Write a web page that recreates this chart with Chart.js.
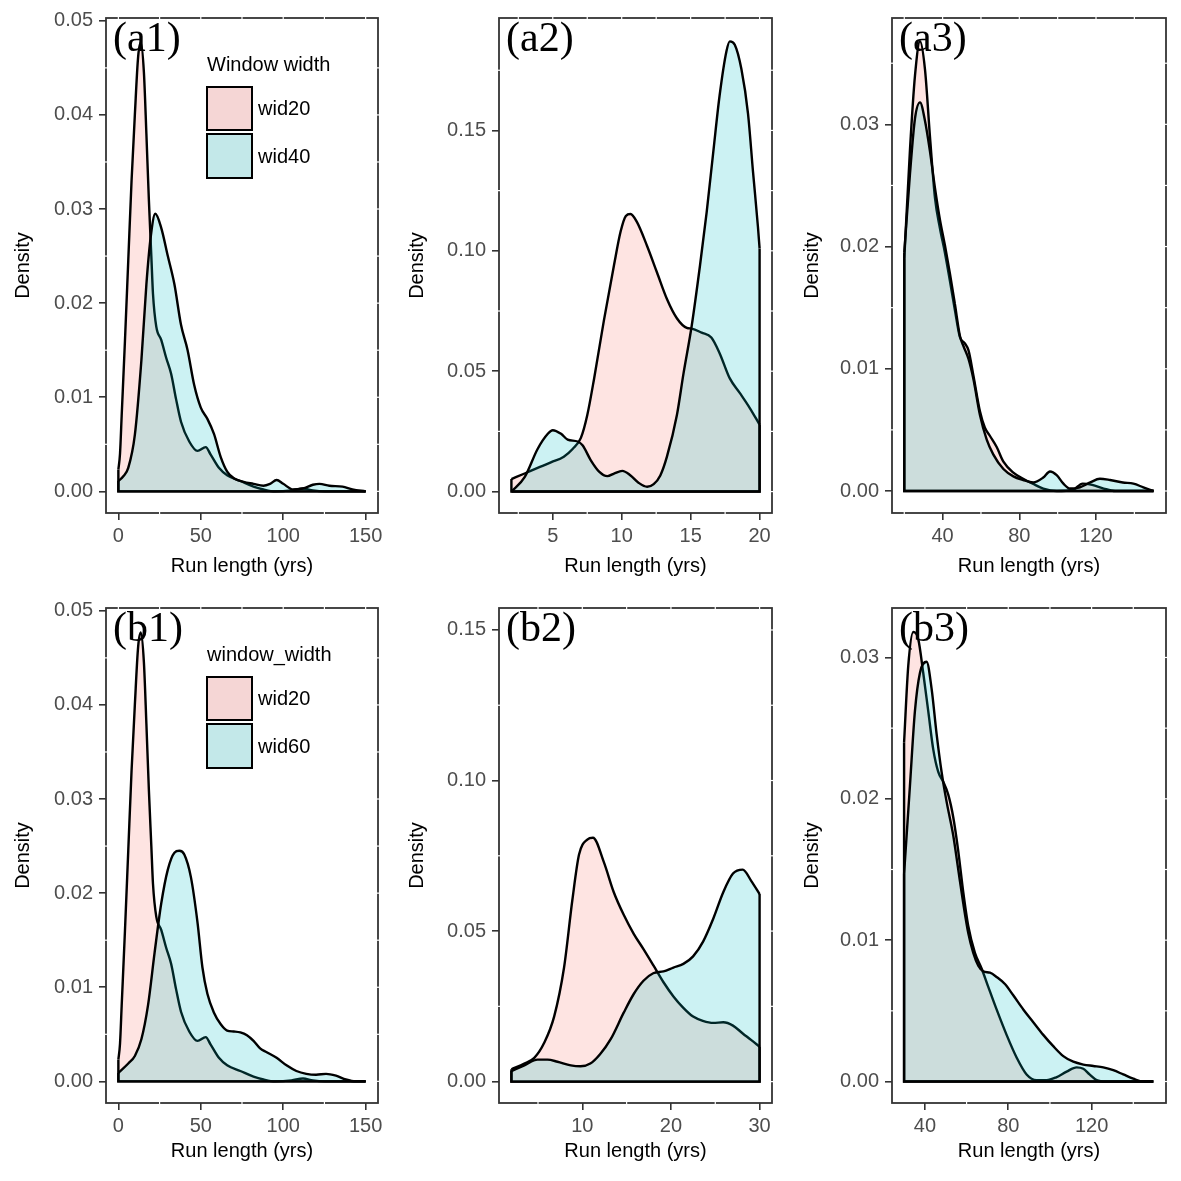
<!DOCTYPE html>
<html><head><meta charset="utf-8">
<script src="https://cdn.jsdelivr.net/npm/chart.js@4.4.0/dist/chart.umd.min.js"></script>
<style>
html,body{margin:0;padding:0;background:#fff;width:1181px;height:1181px;overflow:hidden}
canvas{position:absolute}
</style></head><body>
<script>
// ---------------- data ----------------
// wid20 series used in (a1) and (b1)
const wid20X = [0,1,2,4,6,8,10,12,13.6,15.5,17,18.5,20,21,23,26,29,32,35,38,43,48,53,56,61,66,74,82,88,95,105,112,118,125,150];
const wid20Y = [0.0023,0.004,0.008,0.016,0.0245,0.033,0.040,0.0462,0.0477,0.0445,0.038,0.031,0.025,0.021,0.0175,0.0161,0.0142,0.0125,0.0098,0.0074,0.0053,0.0043,0.0047,0.0039,0.0025,0.0017,0.0011,0.0005,0.0002,0.0,0.0001,0.0003,0.0001,0.0,0.0];
// (a1) wid40
const a1Wid40X = [0,3,6,10,14,17,19.6,22.4,26,30,34,38,42,46,50,54,58,62,66,70,76,82,88,92,96,100,106,112,118,122,128,136,142,150];
const a1Wid40Y = [0.0011,0.0016,0.0025,0.006,0.014,0.022,0.027,0.0295,0.028,0.025,0.022,0.0177,0.015,0.0113,0.0089,0.0077,0.0061,0.0037,0.0021,0.0014,0.001,0.0008,0.0006,0.0008,0.0012,0.0008,0.0002,0.0003,0.0007,0.0008,0.0006,0.0005,0.0002,0.0];
// (b1) wid60
const b1Wid60X = [0,6,10,14,18,22,26,30,34,37,40,44,48,51,54,58,62,66,70,74,78,82,86,90,96,102,108,114,120,126,132,138,144,150];
const b1Wid60Y = [0.0009,0.0019,0.0027,0.0045,0.0081,0.0137,0.0189,0.0225,0.0243,0.0245,0.0241,0.0217,0.0169,0.0121,0.0093,0.0073,0.0061,0.0054,0.0053,0.0052,0.0049,0.0043,0.0035,0.0031,0.0025,0.0017,0.0011,0.0008,0.0007,0.0008,0.0006,0.0002,0.0,0.0];
// (a2)
const a2Wid20X = [2,2.96,3.9,4.9,5.8,6.44,7.04,7.5,8,8.7,9.44,9.92,10.3,10.64,11.1,11.84,12.56,13.28,14,14.72,15.08,15.8,16.5,17.1,17.84,18.56,19.28,20];
const a2Wid20Y = [0.0052,0.0075,0.0098,0.0122,0.0145,0.0177,0.0223,0.0317,0.047,0.0708,0.094,0.108,0.1145,0.1153,0.112,0.102,0.091,0.080,0.072,0.068,0.0677,0.066,0.064,0.0575,0.047,0.041,0.0348,0.0278];
const a2Wid40X = [2,2.96,3.9,4.64,5,5.6,6.08,6.8,7.16,7.76,8.36,8.96,9.44,10.04,10.64,11.24,11.84,12.32,12.8,13.28,14,14.48,15.08,15.68,16.16,16.64,17.1,17.6,17.84,18.2,18.68,19.16,19.52,19.88,20];
const a2Wid40Y = [0.0,0.006,0.0177,0.024,0.0255,0.024,0.0216,0.0208,0.0192,0.013,0.0083,0.0064,0.0075,0.0086,0.0067,0.0036,0.002,0.0031,0.0067,0.0145,0.0317,0.049,0.069,0.094,0.116,0.141,0.1645,0.183,0.187,0.1856,0.1755,0.157,0.133,0.110,0.101];
// (a3)
const a3Wid20X = [20,23,25.6,28.2,30.8,33.4,36,38.6,41.2,43.8,46.4,49,51.5,53.5,56,59.5,62,64.7,68.2,71.7,76.9,82,87,92.5,99.5,108,113,118,124,130,150];
const a3Wid20Y = [0.019,0.028,0.034,0.0368,0.0345,0.029,0.024,0.0215,0.0195,0.0172,0.0148,0.0126,0.0121,0.0115,0.0095,0.0065,0.0052,0.0045,0.0036,0.0024,0.0015,0.001,0.0006,0.0002,0.0,0.0001,0.0006,0.0005,0.0002,0.0,0.0];
const a3Wid40X = [20,23,25.6,28.2,30.8,33.4,36,38.6,41.2,43.8,46.4,49,51,53.5,56,59.5,63,66.4,71.7,76.9,82,87.3,92.5,96,99.5,103,106.4,111.6,117,122,127.3,134,139.5,144.7,150];
const a3Wid40Y = [0.0195,0.026,0.0305,0.0318,0.0303,0.0278,0.0248,0.0222,0.0201,0.0178,0.0153,0.0127,0.0118,0.0108,0.0092,0.0062,0.0042,0.003,0.0018,0.0012,0.0009,0.0007,0.0011,0.0016,0.0013,0.0006,0.0002,0.0003,0.0007,0.001,0.0009,0.0007,0.0006,0.0003,0.0];
// (b2)
const b2Wid20X = [2,3.46,4.58,5.7,6.82,7.94,8.88,9.63,10.56,11.2,12.43,13.55,14.67,15.8,16.9,18.04,19.16,20.28,21.4,22.5,23.6,24.77,25.9,27,28.1,29.07,30];
const b2Wid20Y = [0.0041,0.006,0.0079,0.0129,0.0216,0.0379,0.0604,0.0754,0.0804,0.081,0.0729,0.0629,0.0554,0.0491,0.044,0.0385,0.033,0.0283,0.0245,0.0216,0.0202,0.0195,0.0197,0.0186,0.016,0.0138,0.0116];
const b2Wid60X = [2,3.46,4.95,6.07,7.2,8.7,9.8,10.9,12,13.2,14.67,15.8,16.9,18,19.16,20.28,21.4,22.5,23.64,24.77,25.9,27,28.1,29.07,30];
const b2Wid60Y = [0.0035,0.0054,0.0073,0.0073,0.0066,0.0054,0.0051,0.006,0.0091,0.0141,0.0229,0.0291,0.0335,0.036,0.0366,0.0379,0.0391,0.0416,0.0466,0.0541,0.0629,0.0691,0.0704,0.0666,0.0623];
// (b3)
const b3Wid20X = [30,32,34.4,36.8,39.2,41.6,44,46.4,48.8,51.2,53.6,56,58.4,60.8,64,67.2,70.4,74.4,79.2,84,88.8,93.6,98.4,103,108,112.8,116,119,122.4,127,149.6];
const b3Wid20Y = [0.024,0.0294,0.0318,0.0313,0.0289,0.0262,0.0235,0.0219,0.0212,0.0203,0.0187,0.0163,0.0134,0.011,0.0091,0.008,0.0067,0.0051,0.0033,0.0017,0.0005,0.0001,0.0001,0.0003,0.0007,0.001,0.0009,0.0005,0.0001,0.0,0.0];
const b3Wid60X = [30,32.8,35.2,37.6,40.8,43.2,45.6,48,50.4,53.6,56,58.4,60.8,63.2,65.6,68,71.2,74.4,78.4,82.4,87.2,92,96.8,101.6,106.4,111.2,116,120.8,125.6,130.4,135.2,140,144.8,149.6];
const b3Wid60Y = [0.0147,0.0209,0.0262,0.0289,0.0297,0.0278,0.0246,0.0219,0.0198,0.0174,0.015,0.0126,0.0105,0.0091,0.0082,0.0078,0.0077,0.0074,0.0069,0.0061,0.0051,0.0042,0.0033,0.0025,0.0018,0.0014,0.0012,0.0011,0.001,0.0008,0.0005,0.0002,0.0,0.0];

// tick labels
const xTicks1 = [0,50,100,150];
const xTicksA2 = [5,10,15,20];
const xTicks3 = [40,80,120];
const xTicksB2 = [10,20,30];
const yTicks1 = [0,0.01,0.02,0.03,0.04,0.05];
const yTicks2 = [0,0.05,0.10,0.15];
const yTicks3 = [0,0.01,0.02,0.03];

// ---------------- layout / style ----------------
const SANS = "'Liberation Sans', Arial, Helvetica, sans-serif";
const SERIF = "'Liberation Serif', 'Times New Roman', serif";
const fillCols = ['rgba(248,118,109,0.2)', 'rgba(0,191,196,0.2)'];
const keyCols = ['#F5D6D5', '#C3E8E9'];

const cols = [
  {left: 11, axisW: 95, plotW: 272, padR: 24},
  {left: 405, axisW: 94, plotW: 273, padR: 24},
  {left: 800, axisW: 92, plotW: 274, padR: 14}
];
const rows = [
  {top: 0, padT: 16, plotH: 497, axisH: 65},
  {top: 590, padT: 16, plotH: 497, axisH: 60}
];

const panels = [
  {tag:'(a1)', c:0, r:0, s:[[wid20X,wid20Y,'wid20'],[a1Wid40X,a1Wid40Y,'wid40']], xr:[-7.5,157.5], yr:[-0.0023,0.0503], xt:xTicks1, yt:yTicks1, legendTitle:'Window width'},
  {tag:'(a2)', c:1, r:0, s:[[a2Wid20X,a2Wid20Y,'wid20'],[a2Wid40X,a2Wid40Y,'wid40']], xr:[1.1,20.9], yr:[-0.0089,0.1967], xt:xTicksA2, yt:yTicks2},
  {tag:'(a3)', c:2, r:0, s:[[a3Wid20X,a3Wid20Y,'wid20'],[a3Wid40X,a3Wid40Y,'wid40']], xr:[13.6,156.5], yr:[-0.0018,0.0387], xt:xTicks3, yt:yTicks3},
  {tag:'(b1)', c:0, r:1, s:[[wid20X,wid20Y,'wid20'],[b1Wid60X,b1Wid60Y,'wid60']], xr:[-7.5,157.5], yr:[-0.0023,0.0503], xt:xTicks1, yt:yTicks1, legendTitle:'window_width'},
  {tag:'(b2)', c:1, r:1, s:[[b2Wid20X,b2Wid20Y,'wid20'],[b2Wid60X,b2Wid60Y,'wid60']], xr:[0.6,31.4], yr:[-0.0071,0.1573], xt:xTicksB2, yt:yTicks2},
  {tag:'(b3)', c:2, r:1, s:[[b3Wid20X,b3Wid20Y,'wid20'],[b3Wid60X,b3Wid60Y,'wid60']], xr:[24.2,155.7], yr:[-0.00152,0.0335], xt:xTicks3, yt:yTicks3}
];

function pts(xs, ys){ return xs.map((x,i)=>({x:x, y:ys[i]})); }
function edges(xs, ys){
  const n = xs.length - 1;
  return [{x:xs[0],y:ys[0]},{x:xs[0],y:0},{x:xs[n],y:0},{x:xs[n],y:ys[n]}];
}
// grid positions (major + minor) inside the axis range
function gridVals(ticks, lo, hi){
  const step = ticks[1] - ticks[0];
  const out = [];
  for (let k = -2; k <= 2*(ticks.length-1) + 2; k++) {
    const v = ticks[0] + k*step/2;
    if (v > lo && v < hi) out.push({v:v, minor: (k % 2 !== 0)});
  }
  return out;
}

const decor = {
  id: 'decor',
  afterDraw(chart){
    const o = chart.options.plugins.decor;
    const ctx = chart.ctx, a = chart.chartArea;
    const xs = chart.scales.x, ys = chart.scales.y;
    ctx.save();
    // panel border
    ctx.strokeStyle = '#333'; ctx.lineWidth = 1.8;
    ctx.strokeRect(a.left, a.top, a.right - a.left, a.bottom - a.top);
    // white grid-line breaks on the border
    ctx.strokeStyle = '#fff'; ctx.lineWidth = 1.2;
    gridVals(o.xt, o.xr[0], o.xr[1]).forEach(g => {
      const p = xs.getPixelForValue(g.v);
      if (p < a.left + 3 || p > a.right - 3) return;
      ctx.beginPath(); ctx.moveTo(p, a.top - 1.5); ctx.lineTo(p, a.top + 1.5); ctx.stroke();
      if (g.minor) { ctx.beginPath(); ctx.moveTo(p, a.bottom - 1.5); ctx.lineTo(p, a.bottom + 1.5); ctx.stroke(); }
    });
    gridVals(o.yt, o.yr[0], o.yr[1]).forEach(g => {
      const p = ys.getPixelForValue(g.v);
      if (p < a.top + 3 || p > a.bottom - 3) return;
      ctx.beginPath(); ctx.moveTo(a.right - 1.5, p); ctx.lineTo(a.right + 1.5, p); ctx.stroke();
      if (g.minor) { ctx.beginPath(); ctx.moveTo(a.left - 1.5, p); ctx.lineTo(a.left + 1.5, p); ctx.stroke(); }
    });
    // panel tag
    ctx.fillStyle = '#000';
    ctx.font = '42px ' + SERIF;
    ctx.textAlign = 'left'; ctx.textBaseline = 'alphabetic';
    ctx.fillText(o.tag, a.left + 7, a.top + 33);
    // legend
    if (o.legendTitle) {
      ctx.font = '20px ' + SANS;
      ctx.textBaseline = 'middle';
      ctx.fillStyle = '#000';
      ctx.fillText(o.legendTitle, a.left + 101, a.top + 47);
      const labels = chart.data.datasets.filter(d => d.label && !d.isEdge).map(d => d.label);
      const boxes = [[a.top + 69, 43], [a.top + 116, 44]];
      labels.forEach((lab, i) => {
        const [by, bh] = boxes[i];
        ctx.fillStyle = keyCols[i];
        ctx.fillRect(a.left + 101, by, 45, bh);
        ctx.strokeStyle = '#000'; ctx.lineWidth = 2;
        ctx.strokeRect(a.left + 101, by, 45, bh);
        ctx.fillStyle = '#000';
        ctx.fillText(lab, a.left + 152, by + bh/2 + 1);
      });
    }
    ctx.restore();
  }
};

panels.forEach(p => {
  const col = cols[p.c], row = rows[p.r];
  const cv = document.createElement('canvas');
  const W = col.axisW + col.plotW + col.padR;
  const H = row.padT + row.plotH + row.axisH;
  cv.width = W; cv.height = H;
  cv.style.left = col.left + 'px'; cv.style.top = row.top + 'px';
  cv.style.width = W + 'px'; cv.style.height = H + 'px';
  document.body.appendChild(cv);

  const datasets = [];
  p.s.forEach((s, i) => {
    const [xs, ys, lab] = s;
    datasets.push({
      label: lab, data: pts(xs, ys), fill: 'origin',
      backgroundColor: fillCols[i], borderColor: '#000', borderWidth: 2.4,
      pointRadius: 0, cubicInterpolationMode: 'monotone', order: 4 - 2*i
    });
    datasets.push({
      label: '', isEdge: true, data: edges(xs, ys), fill: false,
      borderColor: '#000', borderWidth: 2.4, pointRadius: 0, tension: 0,
      order: 3 - 2*i
    });
  });

  new Chart(cv, {
    type: 'line',
    data: { datasets: datasets },
    plugins: [decor],
    options: {
      responsive: false, animation: false, devicePixelRatio: 1,
      layout: { padding: { left: 0, top: row.padT, right: col.padR, bottom: 0 } },
      plugins: {
        legend: { display: false }, tooltip: { enabled: false },
        decor: { tag: p.tag, legendTitle: p.legendTitle, xt: p.xt, yt: p.yt, xr: p.xr, yr: p.yr }
      },
      scales: {
        x: {
          type: 'linear', min: p.xr[0], max: p.xr[1],
          afterBuildTicks: sc => { sc.ticks = p.xt.map(v => ({value: v})); },
          afterFit: sc => { sc.height = row.axisH; },
          grid: { display: true, drawOnChartArea: false, drawTicks: true, tickLength: 7, color: '#333', lineWidth: 1.6 },
          border: { display: false },
          ticks: { autoSkip: false, maxRotation: 0, padding: 4, color: '#4D4D4D', font: { family: SANS, size: 20 },
                   callback: v => String(v) },
          title: { display: true, text: 'Run length (yrs)', color: '#000', font: { family: SANS, size: 20 }, padding: 0 }
        },
        y: {
          type: 'linear', min: p.yr[0], max: p.yr[1],
          afterBuildTicks: sc => { sc.ticks = p.yt.map(v => ({value: v})); },
          afterFit: sc => { sc.width = col.axisW; },
          grid: { display: true, drawOnChartArea: false, drawTicks: true, tickLength: 7, color: '#333', lineWidth: 1.6 },
          border: { display: false },
          ticks: { autoSkip: false, padding: 6, color: '#4D4D4D', font: { family: SANS, size: 20 },
                   callback: v => Number(v).toFixed(2) },
          title: { display: true, text: 'Density', color: '#000', font: { family: SANS, size: 20 }, padding: 0 }
        }
      }
    }
  });
});
</script>
</body></html>
